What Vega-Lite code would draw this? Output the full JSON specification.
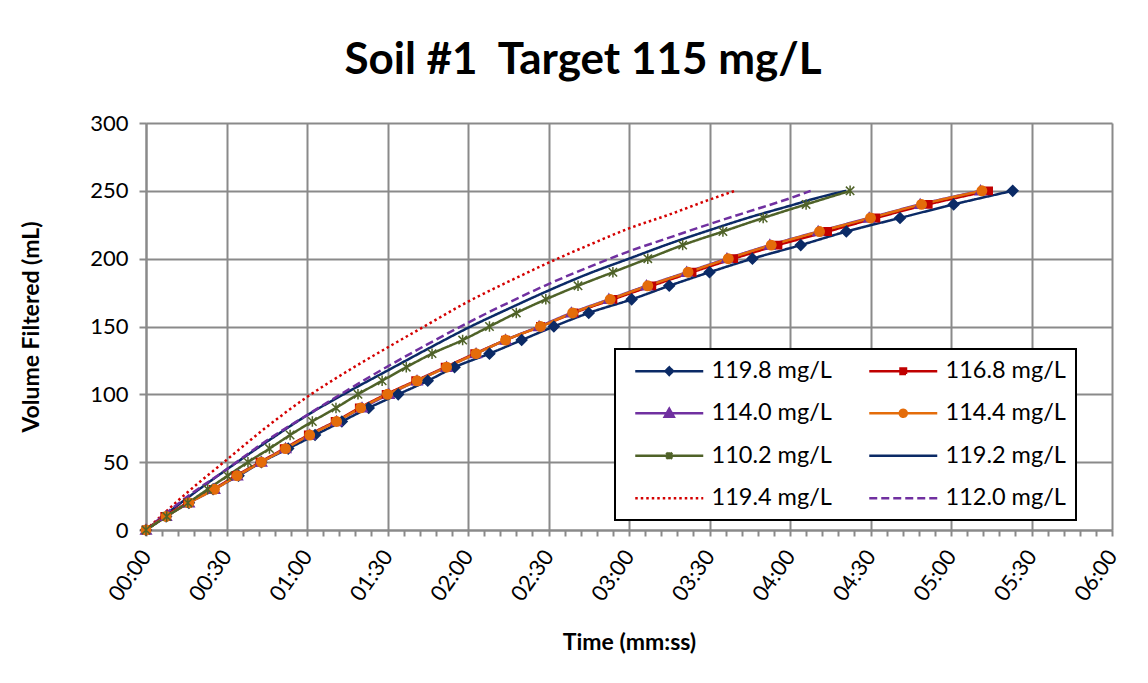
{
  "$schema": "https://vega.github.io/schema/vega-lite/v6.json",
  "width": 966,
  "height": 407,
  "autosize": {"type": "none"},
  "padding": {"left": 146, "top": 123, "right": 36, "bottom": 153},
  "background": "white",
  "title": {
    "text": "Soil #1\u00a0 Target 115 mg/L",
    "font": "Lato",
    "fontSize": 44,
    "fontWeight": "bold",
    "color": "black",
    "anchor": "middle",
    "frame": "group",
    "dx": -46,
    "baseline": "alphabetic",
    "offset": -6
  },
  "datasets": {
    "marked": [
      {"s": "119.8 mg/L", "t": 0, "v": 0}, {"s": "119.8 mg/L", "t": 7.5, "v": 10}, {"s": "119.8 mg/L", "t": 16, "v": 20}, {"s": "119.8 mg/L", "t": 25, "v": 30}, {"s": "119.8 mg/L", "t": 34.5, "v": 40}, {"s": "119.8 mg/L", "t": 43, "v": 50}, {"s": "119.8 mg/L", "t": 53, "v": 60}, {"s": "119.8 mg/L", "t": 63, "v": 70}, {"s": "119.8 mg/L", "t": 73, "v": 80}, {"s": "119.8 mg/L", "t": 83, "v": 90}, {"s": "119.8 mg/L", "t": 94, "v": 100}, {"s": "119.8 mg/L", "t": 105, "v": 110}, {"s": "119.8 mg/L", "t": 115, "v": 120}, {"s": "119.8 mg/L", "t": 128, "v": 130}, {"s": "119.8 mg/L", "t": 140, "v": 140}, {"s": "119.8 mg/L", "t": 152, "v": 150}, {"s": "119.8 mg/L", "t": 165, "v": 160}, {"s": "119.8 mg/L", "t": 181, "v": 170}, {"s": "119.8 mg/L", "t": 195, "v": 180}, {"s": "119.8 mg/L", "t": 210, "v": 190}, {"s": "119.8 mg/L", "t": 226, "v": 200}, {"s": "119.8 mg/L", "t": 244, "v": 210}, {"s": "119.8 mg/L", "t": 261, "v": 220}, {"s": "119.8 mg/L", "t": 281, "v": 230}, {"s": "119.8 mg/L", "t": 301, "v": 240}, {"s": "119.8 mg/L", "t": 323, "v": 250},
      {"s": "116.8 mg/L", "t": 0, "v": 0}, {"s": "116.8 mg/L", "t": 7, "v": 10}, {"s": "116.8 mg/L", "t": 15.5, "v": 20}, {"s": "116.8 mg/L", "t": 25, "v": 30}, {"s": "116.8 mg/L", "t": 33.5, "v": 40}, {"s": "116.8 mg/L", "t": 42.5, "v": 50}, {"s": "116.8 mg/L", "t": 51.5, "v": 60}, {"s": "116.8 mg/L", "t": 60.5, "v": 70}, {"s": "116.8 mg/L", "t": 70.5, "v": 80}, {"s": "116.8 mg/L", "t": 79.5, "v": 90}, {"s": "116.8 mg/L", "t": 89.5, "v": 100}, {"s": "116.8 mg/L", "t": 100.5, "v": 110}, {"s": "116.8 mg/L", "t": 111.5, "v": 120}, {"s": "116.8 mg/L", "t": 122.5, "v": 130}, {"s": "116.8 mg/L", "t": 134, "v": 140}, {"s": "116.8 mg/L", "t": 147, "v": 150}, {"s": "116.8 mg/L", "t": 159.5, "v": 160}, {"s": "116.8 mg/L", "t": 174, "v": 170}, {"s": "116.8 mg/L", "t": 188.5, "v": 180}, {"s": "116.8 mg/L", "t": 203.5, "v": 190}, {"s": "116.8 mg/L", "t": 219, "v": 200}, {"s": "116.8 mg/L", "t": 235.5, "v": 210}, {"s": "116.8 mg/L", "t": 254, "v": 220}, {"s": "116.8 mg/L", "t": 272, "v": 230}, {"s": "116.8 mg/L", "t": 291.5, "v": 240}, {"s": "116.8 mg/L", "t": 314, "v": 250},
      {"s": "114.0 mg/L", "t": 0, "v": 0}, {"s": "114.0 mg/L", "t": 7.5, "v": 10}, {"s": "114.0 mg/L", "t": 16, "v": 20}, {"s": "114.0 mg/L", "t": 25.5, "v": 30}, {"s": "114.0 mg/L", "t": 34, "v": 40}, {"s": "114.0 mg/L", "t": 43, "v": 50}, {"s": "114.0 mg/L", "t": 52, "v": 60}, {"s": "114.0 mg/L", "t": 61, "v": 70}, {"s": "114.0 mg/L", "t": 71, "v": 80}, {"s": "114.0 mg/L", "t": 80.5, "v": 90}, {"s": "114.0 mg/L", "t": 90.5, "v": 100}, {"s": "114.0 mg/L", "t": 101, "v": 110}, {"s": "114.0 mg/L", "t": 112, "v": 120}, {"s": "114.0 mg/L", "t": 123, "v": 130}, {"s": "114.0 mg/L", "t": 134, "v": 140}, {"s": "114.0 mg/L", "t": 146.5, "v": 150}, {"s": "114.0 mg/L", "t": 158.5, "v": 160}, {"s": "114.0 mg/L", "t": 172.5, "v": 170}, {"s": "114.0 mg/L", "t": 186.5, "v": 180}, {"s": "114.0 mg/L", "t": 201.5, "v": 190}, {"s": "114.0 mg/L", "t": 216.5, "v": 200}, {"s": "114.0 mg/L", "t": 232.5, "v": 210}, {"s": "114.0 mg/L", "t": 250.5, "v": 220}, {"s": "114.0 mg/L", "t": 269.5, "v": 230}, {"s": "114.0 mg/L", "t": 288.5, "v": 240}, {"s": "114.0 mg/L", "t": 311, "v": 250},
      {"s": "114.4 mg/L", "t": 0, "v": 0}, {"s": "114.4 mg/L", "t": 7.5, "v": 10}, {"s": "114.4 mg/L", "t": 16, "v": 20}, {"s": "114.4 mg/L", "t": 25.5, "v": 30}, {"s": "114.4 mg/L", "t": 34, "v": 40}, {"s": "114.4 mg/L", "t": 43, "v": 50}, {"s": "114.4 mg/L", "t": 52, "v": 60}, {"s": "114.4 mg/L", "t": 61, "v": 70}, {"s": "114.4 mg/L", "t": 71, "v": 80}, {"s": "114.4 mg/L", "t": 80, "v": 90}, {"s": "114.4 mg/L", "t": 90, "v": 100}, {"s": "114.4 mg/L", "t": 101, "v": 110}, {"s": "114.4 mg/L", "t": 112, "v": 120}, {"s": "114.4 mg/L", "t": 123, "v": 130}, {"s": "114.4 mg/L", "t": 134, "v": 140}, {"s": "114.4 mg/L", "t": 147, "v": 150}, {"s": "114.4 mg/L", "t": 159, "v": 160}, {"s": "114.4 mg/L", "t": 173, "v": 170}, {"s": "114.4 mg/L", "t": 187, "v": 180}, {"s": "114.4 mg/L", "t": 202, "v": 190}, {"s": "114.4 mg/L", "t": 217, "v": 200}, {"s": "114.4 mg/L", "t": 233, "v": 210}, {"s": "114.4 mg/L", "t": 251, "v": 220}, {"s": "114.4 mg/L", "t": 270, "v": 230}, {"s": "114.4 mg/L", "t": 289, "v": 240}, {"s": "114.4 mg/L", "t": 311.5, "v": 250},
      {"s": "110.2 mg/L", "t": 0, "v": 0}, {"s": "110.2 mg/L", "t": 7.7, "v": 10}, {"s": "110.2 mg/L", "t": 15.6, "v": 20}, {"s": "110.2 mg/L", "t": 23, "v": 30}, {"s": "110.2 mg/L", "t": 30.4, "v": 40}, {"s": "110.2 mg/L", "t": 38, "v": 50}, {"s": "110.2 mg/L", "t": 46, "v": 60}, {"s": "110.2 mg/L", "t": 53.7, "v": 70}, {"s": "110.2 mg/L", "t": 62, "v": 80}, {"s": "110.2 mg/L", "t": 70.8, "v": 90}, {"s": "110.2 mg/L", "t": 79, "v": 100}, {"s": "110.2 mg/L", "t": 88, "v": 110}, {"s": "110.2 mg/L", "t": 97, "v": 120}, {"s": "110.2 mg/L", "t": 106.6, "v": 130}, {"s": "110.2 mg/L", "t": 118, "v": 140}, {"s": "110.2 mg/L", "t": 128, "v": 150}, {"s": "110.2 mg/L", "t": 138, "v": 160}, {"s": "110.2 mg/L", "t": 149, "v": 170}, {"s": "110.2 mg/L", "t": 161, "v": 180}, {"s": "110.2 mg/L", "t": 174, "v": 190}, {"s": "110.2 mg/L", "t": 187, "v": 200}, {"s": "110.2 mg/L", "t": 200, "v": 210}, {"s": "110.2 mg/L", "t": 215, "v": 220}, {"s": "110.2 mg/L", "t": 230, "v": 230}, {"s": "110.2 mg/L", "t": 246, "v": 240}, {"s": "110.2 mg/L", "t": 262.4, "v": 250}
    ],
    "plain": [
      {"s": "119.2 mg/L", "t": 0, "v": 0}, {"s": "119.2 mg/L", "t": 15, "v": 23}, {"s": "119.2 mg/L", "t": 30, "v": 44.5}, {"s": "119.2 mg/L", "t": 45, "v": 65}, {"s": "119.2 mg/L", "t": 60, "v": 84.5}, {"s": "119.2 mg/L", "t": 75, "v": 101.5}, {"s": "119.2 mg/L", "t": 90, "v": 117.5}, {"s": "119.2 mg/L", "t": 105, "v": 133.5}, {"s": "119.2 mg/L", "t": 120, "v": 149}, {"s": "119.2 mg/L", "t": 135, "v": 163}, {"s": "119.2 mg/L", "t": 150, "v": 176.5}, {"s": "119.2 mg/L", "t": 165, "v": 189}, {"s": "119.2 mg/L", "t": 180, "v": 200}, {"s": "119.2 mg/L", "t": 195, "v": 211}, {"s": "119.2 mg/L", "t": 210, "v": 221}, {"s": "119.2 mg/L", "t": 225, "v": 230.5}, {"s": "119.2 mg/L", "t": 240, "v": 239}, {"s": "119.2 mg/L", "t": 250.5, "v": 245}, {"s": "119.2 mg/L", "t": 261, "v": 250},
      {"s": "119.4 mg/L", "t": 0, "v": 0}, {"s": "119.4 mg/L", "t": 15, "v": 27}, {"s": "119.4 mg/L", "t": 30, "v": 51.6}, {"s": "119.4 mg/L", "t": 45, "v": 76}, {"s": "119.4 mg/L", "t": 60, "v": 98}, {"s": "119.4 mg/L", "t": 75, "v": 117}, {"s": "119.4 mg/L", "t": 90, "v": 134.5}, {"s": "119.4 mg/L", "t": 105, "v": 151.5}, {"s": "119.4 mg/L", "t": 120, "v": 168.3}, {"s": "119.4 mg/L", "t": 135, "v": 183}, {"s": "119.4 mg/L", "t": 150, "v": 197}, {"s": "119.4 mg/L", "t": 165, "v": 210}, {"s": "119.4 mg/L", "t": 180, "v": 222.3}, {"s": "119.4 mg/L", "t": 195, "v": 232.5}, {"s": "119.4 mg/L", "t": 210, "v": 243.5}, {"s": "119.4 mg/L", "t": 219.5, "v": 250},
      {"s": "112.0 mg/L", "t": 0, "v": 0}, {"s": "112.0 mg/L", "t": 15, "v": 24}, {"s": "112.0 mg/L", "t": 30, "v": 44.7}, {"s": "112.0 mg/L", "t": 45, "v": 66}, {"s": "112.0 mg/L", "t": 60, "v": 84.7}, {"s": "112.0 mg/L", "t": 75, "v": 103}, {"s": "112.0 mg/L", "t": 90, "v": 120.5}, {"s": "112.0 mg/L", "t": 105, "v": 137}, {"s": "112.0 mg/L", "t": 120, "v": 152.8}, {"s": "112.0 mg/L", "t": 135, "v": 167.5}, {"s": "112.0 mg/L", "t": 150, "v": 181.3}, {"s": "112.0 mg/L", "t": 165, "v": 193.8}, {"s": "112.0 mg/L", "t": 180, "v": 205.4}, {"s": "112.0 mg/L", "t": 195, "v": 215.5}, {"s": "112.0 mg/L", "t": 210, "v": 225.5}, {"s": "112.0 mg/L", "t": 225, "v": 235}, {"s": "112.0 mg/L", "t": 240, "v": 244.5}, {"s": "112.0 mg/L", "t": 247.7, "v": 250}
    ]
  },
  "encoding": {
    "x": {
      "field": "t", "type": "quantitative",
      "scale": {"domain": [0, 360], "nice": false, "zero": false},
      "axis": {
        "title": "Time (mm:ss)",
        "values": [0,6,12,18,24,30,36,42,48,54,60,66,72,78,84,90,96,102,108,114,120,126,132,138,144,150,156,162,168,174,180,186,192,198,204,210,216,222,228,234,240,246,252,258,264,270,276,282,288,294,300,306,312,318,324,330,336,342,348,354,360],
        "labelExpr": "datum.value % 30 === 0 ? utcFormat(datum.value * 1000, '%M:%S') : ''",
        "labelOverlap": false,
        "labelAngle": -55,
        "labelAlign": "right",
        "labelBaseline": "middle",
        "labelPadding": 16,
        "labelFontSize": 22,
        "labelFlush": false,
        "grid": true,
        "gridOpacity": {"condition": {"test": "datum.value % 30 === 0", "value": 1}, "value": 0},
        "tickSize": 6,
        "titlePadding": 27,
        "titleFontSize": 23
      }
    },
    "y": {
      "field": "v", "type": "quantitative",
      "scale": {"domain": [0, 300], "nice": false},
      "axis": {
        "title": "Volume Filtered (mL)",
        "values": [0, 50, 100, 150, 200, 250, 300],
        "labelPadding": 11,
        "labelFontSize": 22,
        "grid": true,
        "tickSize": 7,
        "titlePadding": 46,
        "titleFontSize": 23
      }
    }
  },
  "layer": [
    {
      "data": {"name": "plain"},
      "mark": {"type": "line", "strokeWidth": 2.5, "interpolate": "monotone"},
      "encoding": {
        "color": {
          "field": "s", "type": "nominal",
          "scale": {
            "domain": ["119.8 mg/L", "116.8 mg/L", "114.0 mg/L", "114.4 mg/L", "110.2 mg/L", "119.2 mg/L", "119.4 mg/L", "112.0 mg/L"],
            "range": ["#0B2A66", "#C00000", "#7030A0", "#E46C0A", "#4F6228", "#0B2A66", "#D40000", "#7030A0"]
          },
          "legend": {
            "title": null,
            "orient": "none",
            "legendX": 469,
            "legendY": 226,
            "columns": 2,
            "direction": "horizontal",
            "padding": 10,
            "fillColor": "white",
            "strokeColor": "black",
            "symbolSize": 100,
            "symbolStrokeWidth": 2.5,
            "symbolOffset": 32.5,
            "labelOffset": 30.5,
            "labelFont": "Lato",
            "labelFontSize": 23.5,
            "labelColor": "black",
            "labelLimit": 400,
            "rowPadding": 17.5,
            "columnPadding": 27,
            "encode": {
              "symbols": {
                "update": {
                  "shape": {"signal": "datum.value === '119.8 mg/L' ? 'M-6.8,0H6.8M0,-0.75L0.75,0L0,0.75L-0.75,0Z' : datum.value === '116.8 mg/L' ? 'M-6.8,0H6.8M-0.55,-0.55H0.55V0.55H-0.55Z' : datum.value === '114.0 mg/L' ? 'M-6.8,0H6.8M0,-0.9L0.9,0.7L-0.9,0.7Z' : datum.value === '114.4 mg/L' ? 'M-6.8,0H6.8M0.7,0A0.7,0.7,0,1,1,-0.7,0A0.7,0.7,0,1,1,0.7,0Z' : datum.value === '110.2 mg/L' ? 'M-6.8,0H6.8M-0.6,-0.6L0.6,0.6M-0.6,0.6L0.6,-0.6M0,-0.7L0,0.7' : 'M-6.8,0H6.8'"},
                  "fill": {"scale": "color", "field": "value"},
                  "stroke": {"scale": "color", "field": "value"},
                  "strokeDash": {"scale": "strokeDash", "field": "value"},
                  "strokeWidth": {"value": 2.5},
                  "fillOpacity": {"value": 1},
                  "strokeOpacity": {"value": 1}
                }
              }
            }
          }
        },
        "strokeDash": {
          "field": "s", "type": "nominal",
          "scale": {
            "domain": ["119.8 mg/L", "116.8 mg/L", "114.0 mg/L", "114.4 mg/L", "110.2 mg/L", "119.2 mg/L", "119.4 mg/L", "112.0 mg/L"],
            "range": [[1, 0], [1, 0], [1, 0], [1, 0], [1, 0], [1, 0], [2.5, 3], [8, 4]]
          }
        }
      }
    },
    {
      "data": {"name": "marked"},
      "mark": {"type": "line", "strokeWidth": 2.5, "interpolate": "monotone"},
      "encoding": {
        "color": {"field": "s", "type": "nominal"},
        "strokeDash": {"field": "s", "type": "nominal"}
      }
    },
    {
      "data": {"name": "marked"},
      "mark": {"type": "point", "filled": true, "opacity": 1, "size": 110, "strokeWidth": 1.5},
      "encoding": {
        "color": {"field": "s", "type": "nominal", "legend": null},
        "stroke": {
          "field": "s", "type": "nominal", "legend": null,
          "scale": {
            "domain": ["119.8 mg/L", "116.8 mg/L", "114.0 mg/L", "114.4 mg/L", "110.2 mg/L"],
            "range": ["#0B2A66", "#C00000", "#7030A0", "#E46C0A", "#4F6228"]
          }
        },
        "shape": {
          "field": "s", "type": "nominal", "legend": null,
          "scale": {
            "domain": ["119.8 mg/L", "116.8 mg/L", "114.0 mg/L", "114.4 mg/L", "110.2 mg/L"],
            "range": [
              "M0,-1L1,0L0,1L-1,0Z",
              "M-0.7,-0.7H0.7V0.7H-0.7Z",
              "M0,-1L1,0.75L-1,0.75Z",
              "M0.9,0A0.9,0.9,0,1,1,-0.9,0A0.9,0.9,0,1,1,0.9,0Z",
              "M-0.8,-0.8L0.8,0.8M-0.8,0.8L0.8,-0.8M0,-1L0,1"
            ]
          }
        }
      }
    }
  ],
  "resolve": {"scale": {"color": "shared", "strokeDash": "shared"}},
  "config": {
    "font": "Lato",
    "view": {"stroke": null},
    "axis": {
      "labelFont": "Lato",
      "labelColor": "black",
      "titleFont": "Lato",
      "titleFontWeight": "bold",
      "titleColor": "black",
      "gridColor": "#8A8A8A",
      "gridWidth": 2,
      "domainColor": "#8A8A8A",
      "domainWidth": 2,
      "tickColor": "#8A8A8A",
      "tickWidth": 2
    },
    "legend": {"strokeWidth": 2}
  }
}
